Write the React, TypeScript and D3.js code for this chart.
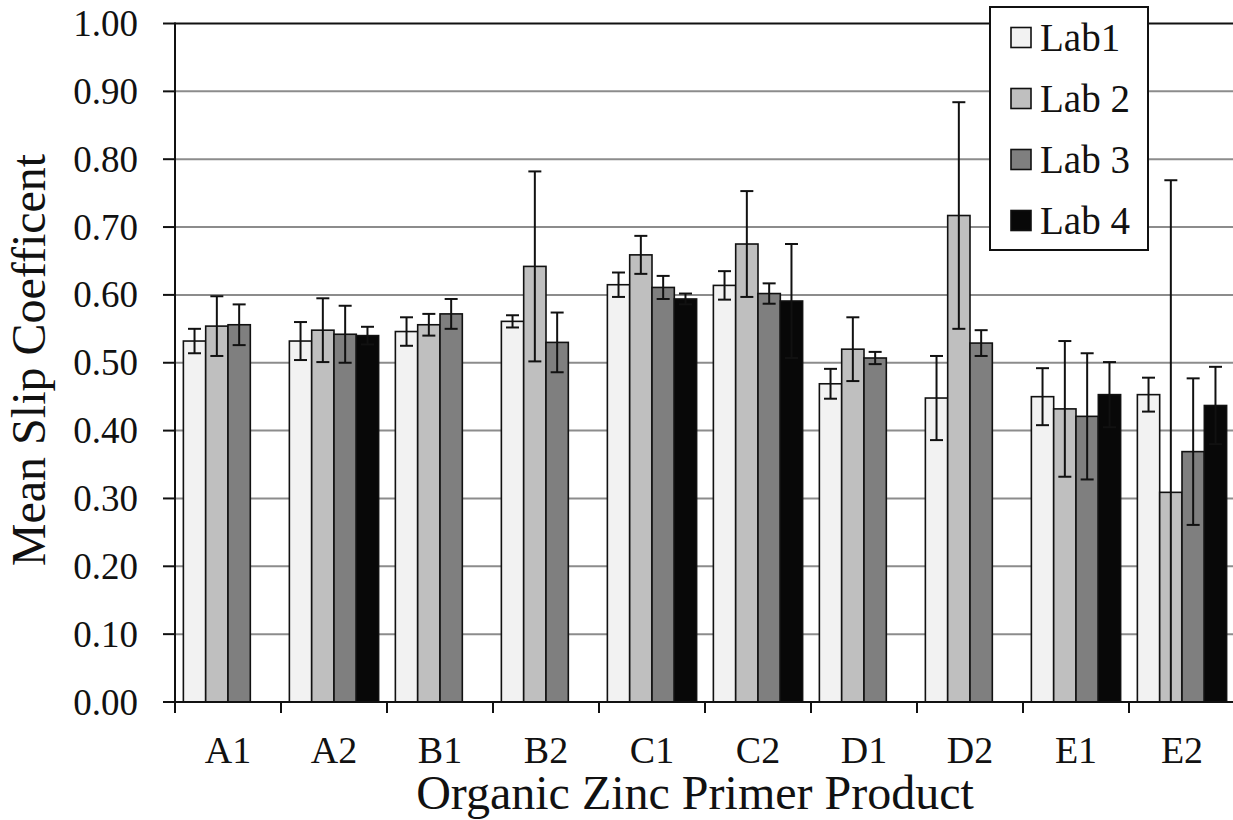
import React from "react";
import * as d3 from "d3";

const categories = ["A1", "A2", "B1", "B2", "C1", "C2", "D1", "D2", "E1", "E2"];
const labs = ["Lab1", "Lab 2", "Lab 3", "Lab 4"];
const labColors = ["#f2f2f2", "#bfbfbf", "#7f7f7f", "#080808"];

// mean values per lab (null = no data)
const lab1Values = [0.532, 0.532, 0.546, 0.561, 0.615, 0.614, 0.469, 0.448, 0.450, 0.453];
const lab2Values = [0.554, 0.548, 0.556, 0.642, 0.659, 0.675, 0.520, 0.717, 0.432, 0.309];
const lab3Values = [0.556, 0.542, 0.572, 0.530, 0.611, 0.602, 0.507, 0.529, 0.421, 0.369];
const lab4Values = [null, 0.540, null, null, 0.594, 0.591, null, null, 0.453, 0.437];

// error half-widths per lab
const lab1Errors = [0.018, 0.028, 0.021, 0.009, 0.018, 0.021, 0.022, 0.062, 0.042, 0.025];
const lab2Errors = [0.044, 0.047, 0.016, 0.140, 0.028, 0.078, 0.047, 0.167, 0.100, 0.460];
const lab3Errors = [0.030, 0.042, 0.022, 0.044, 0.017, 0.015, 0.009, 0.019, 0.093, 0.108];
const lab4Errors = [null, 0.013, null, null, 0.008, 0.084, null, null, 0.048, 0.057];

const yTicks = [0, 0.1, 0.2, 0.3, 0.4, 0.5, 0.6, 0.7, 0.8, 0.9, 1.0];

const allValues = [lab1Values, lab2Values, lab3Values, lab4Values];
const allErrors = [lab1Errors, lab2Errors, lab3Errors, lab4Errors];

const W = 1233;
const H = 820;
const left = 175;
const right = 1235;
const top = 23.5;
const bottom = 702;
const TS = { fontFamily: '"Liberation Serif", "Times New Roman", serif' };

export default function App() {
  const x0 = d3.scaleBand<string>().domain(categories).range([left, right]).padding(0);
  const x1 = d3
    .scaleBand<string>()
    .domain(labs)
    .range([0, x0.bandwidth()])
    .paddingInner(0)
    .paddingOuter(0.375);
  const y = d3.scaleLinear().domain([0, 1]).range([bottom, top]);

  const capHalf = 6.5;

  return (
    <svg width={W} height={H} style={{ position: "absolute", left: 0, top: 0, background: "#fff" }}>
      <rect x={0} y={0} width={W} height={H} fill="#fff" />
      {/* gridlines */}
      {yTicks.slice(1, -1).map((t) => (
        <line key={t} x1={left} x2={right} y1={y(t)} y2={y(t)} stroke="#8c8c8c" strokeWidth={2} />
      ))}
      {/* top border */}
      <line x1={left} x2={right} y1={y(1)} y2={y(1)} stroke="#111" strokeWidth={2} />

      {/* bars */}
      {categories.map((c, ci) =>
        labs.map((lab, li) => {
          const v = allValues[li][ci];
          if (v == null) return null;
          const bx = (x0(c) as number) + (x1(lab) as number);
          return (
            <rect
              key={c + lab}
              x={bx}
              y={y(v)}
              width={x1.bandwidth()}
              height={y(0) - y(v)}
              fill={labColors[li]}
              stroke="#111"
              strokeWidth={1.6}
            />
          );
        })
      )}

      {/* error bars */}
      {categories.map((c, ci) =>
        labs.map((lab, li) => {
          const v = allValues[li][ci];
          const e = allErrors[li][ci];
          if (v == null || e == null) return null;
          const cx = (x0(c) as number) + (x1(lab) as number) + x1.bandwidth() / 2;
          const hi = v + e;
          const lo = v - e;
          const yHi = y(hi);
          const yLo = y(Math.max(lo, 0));
          return (
            <g key={"e" + c + lab} stroke="#111" strokeWidth={2}>
              <line x1={cx} x2={cx} y1={yHi} y2={yLo} />
              <line x1={cx - capHalf} x2={cx + capHalf} y1={yHi} y2={yHi} />
              {lo > 0 && <line x1={cx - capHalf} x2={cx + capHalf} y1={yLo} y2={yLo} />}
            </g>
          );
        })
      )}

      {/* y axis */}
      <line x1={left} x2={left} y1={top - 1} y2={bottom + 11} stroke="#111" strokeWidth={2} />
      {yTicks.map((t) => (
        <g key={"yt" + t}>
          <line x1={left - 12} x2={left} y1={y(t)} y2={y(t)} stroke="#111" strokeWidth={2} />
          <text x={138} y={y(t)} dy="0.34em" textAnchor="end" fontSize={37} fill="#111" style={TS}>
            {t.toFixed(2)}
          </text>
        </g>
      ))}

      {/* x axis */}
      <line x1={left} x2={right} y1={bottom} y2={bottom} stroke="#111" strokeWidth={2} />
      {categories.map((c) => (
        <line
          key={"xt" + c}
          x1={(x0(c) as number) + x0.bandwidth()}
          x2={(x0(c) as number) + x0.bandwidth()}
          y1={bottom}
          y2={bottom + 11}
          stroke="#111"
          strokeWidth={2}
        />
      ))}
      {categories.map((c) => (
        <text
          key={"xl" + c}
          x={(x0(c) as number) + x0.bandwidth() / 2}
          y={763}
          textAnchor="middle"
          fontSize={38}
          fill="#111"
          style={TS}
        >
          {c}
        </text>
      ))}

      {/* axis titles */}
      <text x={695} y={809} textAnchor="middle" fontSize={48} fill="#111" style={TS}>
        Organic Zinc Primer Product
      </text>
      <text
        transform={`translate(45,360) rotate(-90)`}
        textAnchor="middle"
        fontSize={48}
        fill="#111"
        style={TS}
      >
        Mean Slip Coefficent
      </text>

      {/* legend */}
      <g>
        <rect x={990} y={7} width={158} height={243} fill="#fff" stroke="#111" strokeWidth={2} />
        {labs.map((lab, i) => {
          const cy = 37.5 + i * 61;
          return (
            <g key={"lg" + lab}>
              <rect x={1011} y={cy - 10} width={20} height={20} fill={labColors[i]} stroke="#111" strokeWidth={1.6} />
              <text x={1040} y={cy} dy="0.34em" fontSize={39} fill="#111" style={TS}>
                {lab}
              </text>
            </g>
          );
        })}
      </g>
    </svg>
  );
}
